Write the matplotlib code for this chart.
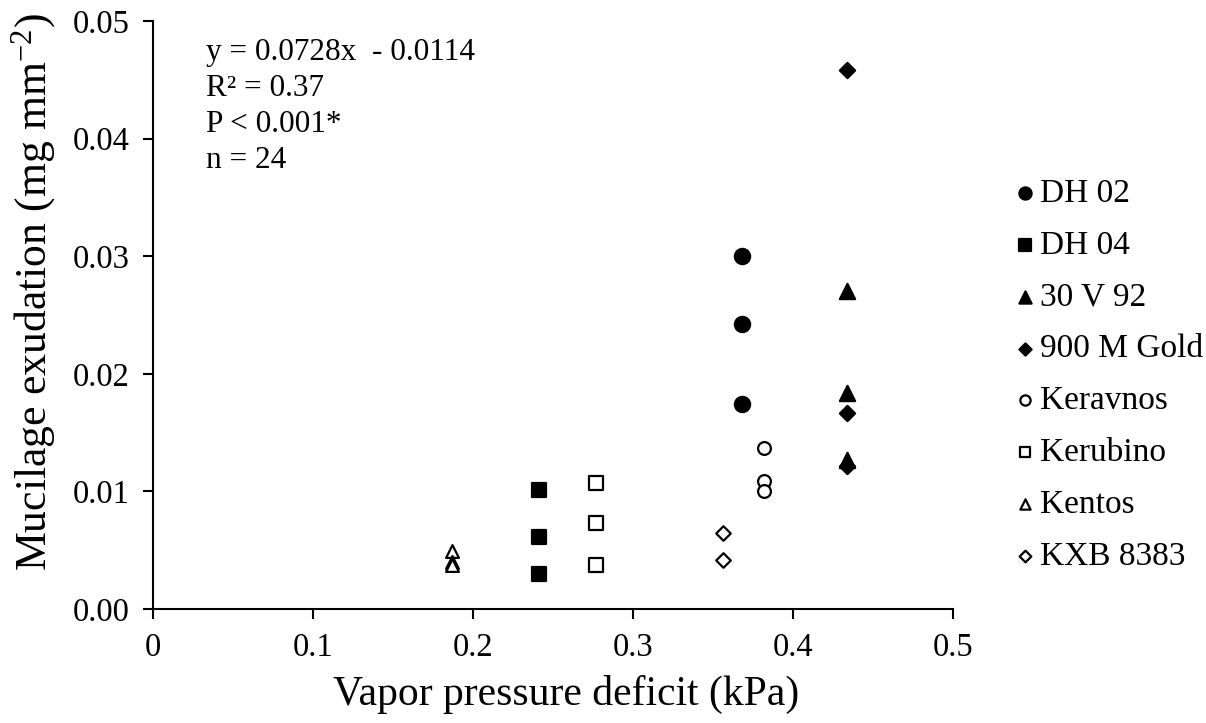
import numpy as np
import matplotlib
matplotlib.use("Agg")
import matplotlib.pyplot as plt

plt.rcParams['font.family'] = ['Liberation Serif', 'DejaVu Serif']
plt.rcParams['mathtext.fontset'] = 'custom'
plt.rcParams['mathtext.rm'] = 'Liberation Serif'
plt.rcParams['mathtext.it'] = 'Liberation Serif:italic'

# cultivars, vapor pressure deficit (kPa) and mucilage exudation (mg mm-2)
cultivars = ["DH 02", "DH 04", "30 V 92", "900 M Gold",
             "Keravnos", "Kerubino", "Kentos", "KXB 8383"]
vpd = [0.368, 0.241, 0.434, 0.434, 0.382, 0.277, 0.187, 0.356]
dh02 = [0.0300, 0.0242, 0.0174]
dh04 = [0.0101, 0.0061, 0.0030]
v92 = [0.0270, 0.0184, 0.0127]
gold900 = [0.0458, 0.0167, 0.0122]
keravnos = [0.0137, 0.0109, 0.0100]
kerubino = [0.0107, 0.0073, 0.0037]
kentos = [0.0049, 0.0040, 0.0037]
kxb8383 = [0.0065, 0.0042]
values = [dh02, dh04, v92, gold900, keravnos, kerubino, kentos, kxb8383]

stats_text = "y = 0.0728x  - 0.0114\nR² = 0.37\nP < 0.001*\nn = 24"

styles = [
    dict(marker="o", s=120, facecolor="black"),
    dict(marker="s", s=110, facecolor="black"),
    dict(marker="^", s=120, facecolor="black"),
    dict(marker="D", s=60, facecolor="black"),
    dict(marker="o", s=85, facecolor="white"),
    dict(marker="s", s=95, facecolor="white"),
    dict(marker="^", s=85, facecolor="white"),
    dict(marker="D", s=55, facecolor="white"),
]

fig = plt.figure(figsize=(12.06, 7.23), dpi=100)
ax = fig.add_axes([0.1269, 0.1577, 0.6634, 0.8133])

for name, x, ys, st in zip(cultivars, vpd, values, styles):
    ax.scatter([x] * len(ys), ys, marker=st["marker"], s=st["s"],
               facecolor=st["facecolor"], edgecolor="black",
               linewidth=1.6, label=name, zorder=3)

ax.set_xlim(0, 0.5)
ax.set_ylim(0, 0.05)
ax.set_xticks(np.arange(0, 0.51, 0.1))
ax.set_xticklabels(["0", "0.1", "0.2", "0.3", "0.4", "0.5"])
ax.set_yticks(np.arange(0, 0.051, 0.01))
ax.set_yticklabels(["%.2f" % v for v in np.arange(0, 0.051, 0.01)])
ax.tick_params(labelsize=23.5, width=1.5, length=7, direction="out")
ax.tick_params(axis="x", pad=10)
ax.tick_params(axis="y", pad=10)
for side in ["top", "right"]:
    ax.spines[side].set_visible(False)
for side in ["left", "bottom"]:
    ax.spines[side].set_linewidth(1.5)

ax.set_xlabel("Vapor pressure deficit (kPa)", fontsize=30)
ax.xaxis.set_label_coords(0.516, -0.112)
fig.text(0.028, 0.596, r"Mucilage exudation (mg mm$^{\mathregular{-2}}$)",
         rotation=90, fontsize=31.5, ha="center", va="center")

fig.text(0.171, 0.947, stats_text, fontsize=22.5, va="top", ha="left",
         linespacing=1.32)

ax.legend(loc="center left", bbox_to_anchor=(1.061, 0.398), frameon=False,
          fontsize=24, markerscale=0.8, handlelength=0.6, handletextpad=0.15,
          labelspacing=0.64, borderaxespad=0)

fig.savefig("out.png", dpi=100)
